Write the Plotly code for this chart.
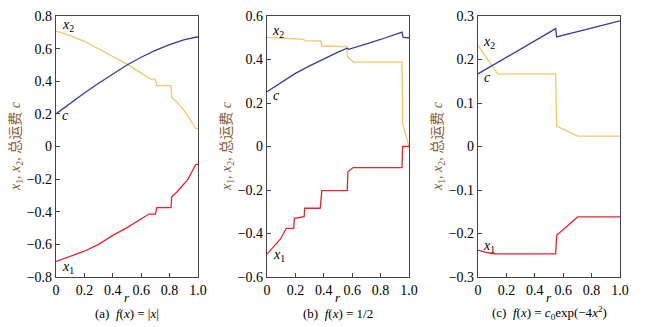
import plotly.graph_objects as go

# ---------------- data ----------------
# panel (a) f(x)=|x|
r_a_x2 = [0, 0.1, 0.2, 0.3, 0.4, 0.5, 0.6, 0.665, 0.70, 0.71, 0.81, 0.815, 0.85, 0.9, 0.94, 0.97, 0.985, 1.0]
x2_a = [0.707, 0.68, 0.645, 0.60, 0.555, 0.505, 0.45, 0.413, 0.413, 0.373, 0.373, 0.30, 0.272, 0.225, 0.17, 0.13, 0.11, 0.11]
r_a_x1 = [0, 0.1, 0.2, 0.3, 0.4, 0.5, 0.6, 0.655, 0.70, 0.71, 0.81, 0.815, 0.85, 0.9, 0.93, 0.96, 0.985, 1.0]
x1_a = [-0.705, -0.675, -0.642, -0.60, -0.545, -0.497, -0.445, -0.414, -0.414, -0.375, -0.375, -0.308, -0.28, -0.23, -0.2, -0.15, -0.11, -0.11]
r_a_c = [0, 0.1, 0.2, 0.3, 0.4, 0.5, 0.6, 0.7, 0.8, 0.9, 1.0]
c_a = [0.2, 0.265, 0.328, 0.388, 0.445, 0.5, 0.547, 0.589, 0.625, 0.653, 0.673]

# panel (b) f(x)=1/2
r_b_x2 = [0, 0.26, 0.262, 0.38, 0.385, 0.562, 0.566, 0.609, 0.951, 0.955, 1.0]
x2_b = [0.502, 0.493, 0.487, 0.485, 0.462, 0.459, 0.413, 0.388, 0.388, 0.107, 0.0]
r_b_c = [0, 0.1, 0.2, 0.3, 0.4, 0.445, 0.5, 0.565, 0.575, 0.7, 0.8, 0.951, 0.958, 1.0]
c_b = [0.252, 0.296, 0.336, 0.371, 0.403, 0.418, 0.434, 0.452, 0.447, 0.472, 0.492, 0.526, 0.502, 0.50]
r_b_x1 = [0, 0.05, 0.086, 0.095, 0.136, 0.188, 0.193, 0.262, 0.265, 0.375, 0.386, 0.565, 0.57, 0.607, 0.951, 0.955, 1.0]
x1_b = [-0.495, -0.46, -0.432, -0.425, -0.376, -0.376, -0.33, -0.323, -0.284, -0.284, -0.203, -0.203, -0.116, -0.097, -0.097, 0.0, 0.0]

# panel (c) f(x)=c0 exp(-4x^2)
r_c_x2 = [0, 0.139, 0.547, 0.554, 0.702, 1.0]
x2_c = [0.232, 0.167, 0.167, 0.047, 0.024, 0.024]
r_c_c = [0, 0.547, 0.554, 1.0]
c_c = [0.167, 0.271, 0.252, 0.289]
r_c_x1 = [0, 0.05, 0.1, 0.139, 0.547, 0.554, 0.702, 1.0]
x1_c = [-0.238, -0.243, -0.246, -0.247, -0.247, -0.204, -0.162, -0.162]

x_tickvals = [0, 0.2, 0.4, 0.6, 0.8, 1.0]
x_ticktext = ["0", "0.2", "0.4", "0.6", "0.8", "1.0"]
y_ticks_a = [0.8, 0.6, 0.4, 0.2, 0, -0.2, -0.4, -0.6, -0.8]
y_ticks_b = [0.6, 0.4, 0.2, 0, -0.2, -0.4, -0.6]
y_ticks_c = [0.3, 0.2, 0.1, 0, -0.1, -0.2, -0.3]

captions = ["(a)  <i>f</i>(<i>x</i>) = |<i>x</i>|",
            "(b)  <i>f</i>(<i>x</i>) = 1/2",
            "(c)  <i>f</i>(<i>x</i>) = <i>c</i><sub>0</sub>exp(−4<i>x</i><sup>2</sup>)"]
ytitle = "<i>x</i><sub>1</sub>, <i>x</i><sub>2</sub>, 总运费 <i>c</i>"

COL_X2 = "#F6C56B"
COL_C = "#3A3AA0"
COL_X1 = "#E8252C"
SERIF = "Liberation Serif"

def fmt(v):
    if v == 0:
        return "0"
    s = f"{abs(v):.1f}"
    return ("−" + s) if v < 0 else s

fig = go.Figure()

panels = [
    (r_a_x2, x2_a, r_a_c, c_a, r_a_x1, x1_a, "x", "y"),
    (r_b_x2, x2_b, r_b_c, c_b, r_b_x1, x1_b, "x2", "y2"),
    (r_c_x2, x2_c, r_c_c, c_c, r_c_x1, x1_c, "x3", "y3"),
]
for (rx2, vx2, rc, vc, rx1, vx1, xa, ya) in panels:
    fig.add_trace(go.Scatter(x=rx2, y=vx2, mode="lines", line=dict(color=COL_X2, width=1.3), xaxis=xa, yaxis=ya, showlegend=False))
    fig.add_trace(go.Scatter(x=rc, y=vc, mode="lines", line=dict(color=COL_C, width=1.3), xaxis=xa, yaxis=ya, showlegend=False))
    fig.add_trace(go.Scatter(x=rx1, y=vx1, mode="lines", line=dict(color=COL_X1, width=1.3), xaxis=xa, yaxis=ya, showlegend=False))

W, H = 647, 327
xdoms = [(56 / W, 198 / W), (267 / W, 409 / W), (478 / W, 620 / W)]
ydom = (50 / H, 311 / H)
yranges = [(-0.8, 0.8), (-0.6, 0.6), (-0.3, 0.3)]
yticks = [y_ticks_a, y_ticks_b, y_ticks_c]

layout = dict(width=W, height=H, margin=dict(l=0, r=0, t=0, b=0, autoexpand=False),
              paper_bgcolor="white", plot_bgcolor="white",
              font=dict(family=SERIF, size=13, color="black"))
axis_common = dict(showgrid=False, zeroline=False, showline=True, linecolor="#444", linewidth=1.2,
                   mirror=True, ticks="inside", ticklen=4, tickcolor="#444", automargin=False,
                   tickfont=dict(family=SERIF, size=14, color="black"))
for i in range(3):
    sx = "" if i == 0 else str(i + 1)
    layout["xaxis" + sx] = dict(axis_common, domain=list(xdoms[i]), range=[0, 1.0],
                                tickvals=x_tickvals, ticktext=x_ticktext,
                                anchor="y" + sx)
    layout["yaxis" + sx] = dict(axis_common, domain=list(ydom), range=list(yranges[i]),
                                tickvals=yticks[i], ticktext=[fmt(v) for v in yticks[i]],
                                anchor="x" + sx)
fig.update_layout(**layout)

ann = []
ycent = (H - 146) / H
for i in range(3):
    x0, x1 = xdoms[i]
    xm = (x0 + x1) / 2
    ann.append(dict(text="<i>r</i>", x=xm, y=(H - 297) / H, xref="paper", yref="paper",
                    xanchor="center", yanchor="middle",
                    showarrow=False, font=dict(family=SERIF, size=13)))
    ann.append(dict(text=captions[i], x=xm, y=(H - 313) / H, xref="paper", yref="paper",
                    xanchor="center", yanchor="middle",
                    showarrow=False, font=dict(family=SERIF, size=13)))
    ann.append(dict(text=ytitle, x=x0 - 39 / W, y=ycent, xref="paper", yref="paper",
                    xanchor="center", yanchor="middle",
                    textangle=-90, showarrow=False,
                    font=dict(family="Liberation Serif, Noto Sans CJK SC", size=14, color="#8a6038")))

# curve labels (data coords)
lab = [
    ("x", "y", 0.03, 0.74, 0.03, 0.19, 0.03, -0.74),
    ("x2", "y2", 0.02, 0.53, 0.03, 0.235, 0.03, -0.50),
    ("x3", "y3", 0.02, 0.238, 0.03, 0.158, 0.02, -0.229),
]
for (xa, ya, x2x, x2y, cx, cy, x1x, x1y) in lab:
    ann.append(dict(text="<i>x</i><sub>2</sub>", x=x2x, y=x2y, xref=xa, yref=ya, xanchor="left",
                    showarrow=False, font=dict(family=SERIF, size=14)))
    ann.append(dict(text="<i>c</i>", x=cx, y=cy, xref=xa, yref=ya, xanchor="left",
                    showarrow=False, font=dict(family=SERIF, size=14)))
    ann.append(dict(text="<i>x</i><sub>1</sub>", x=x1x, y=x1y, xref=xa, yref=ya, xanchor="left",
                    showarrow=False, font=dict(family=SERIF, size=14)))
fig.update_layout(annotations=ann)

fig.write_html("out.html")
